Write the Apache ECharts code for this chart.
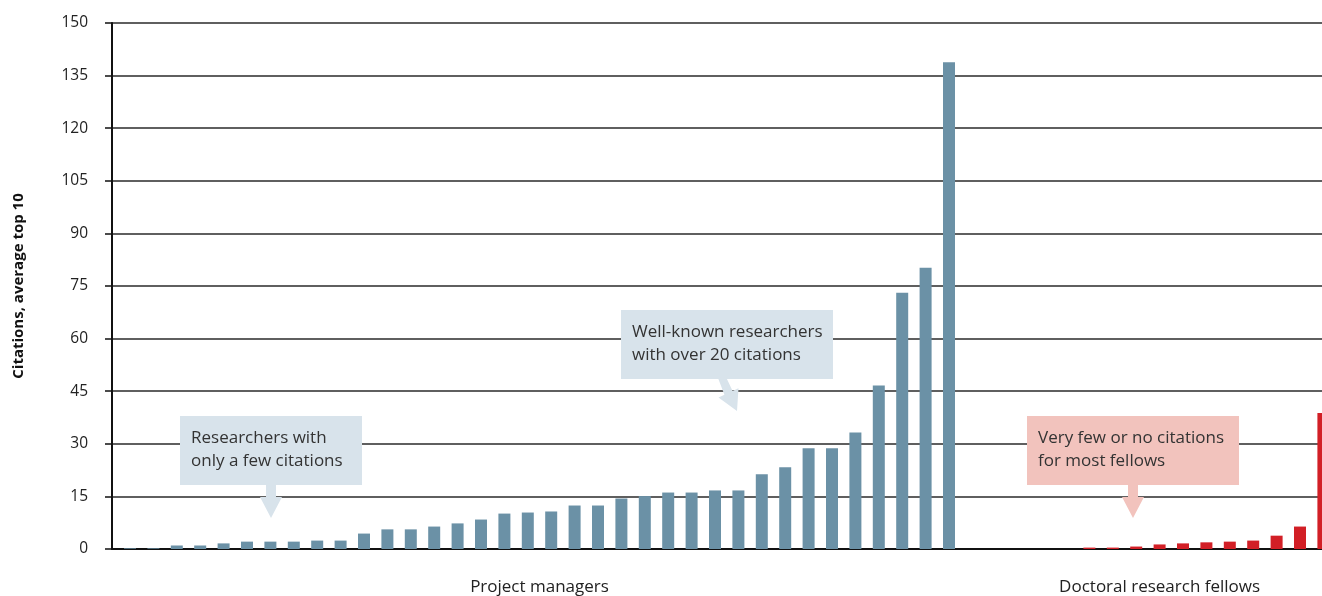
<!DOCTYPE html>
<html>
<head>
<meta charset="utf-8">
<script src="https://cdn.jsdelivr.net/npm/echarts@6/dist/echarts.min.js"></script>
<style>
  html, body { margin: 0; padding: 0; background: #fff; }
  #chart { width: 1322px; height: 596px; }
</style>
</head>
<body>
<div id="chart"></div>
<script>
// average top-10 citations, one bar per person, sorted
var managerValues = [0.2, 0.2, 1.0, 1.0, 1.6, 2.1, 2.1, 2.1, 2.4, 2.4, 4.4, 5.6, 5.6, 6.4, 7.3, 8.4,
  10.1, 10.4, 10.7, 12.4, 12.4, 14.4, 15.1, 16.1, 16.1, 16.7, 16.7, 21.3, 23.3, 28.7, 28.7, 33.2,
  46.6, 73.1, 80.2, 138.8];
var fellowValues = [0, 0, 0, 0, 0.4, 0.4, 0.7, 1.3, 1.6, 1.9, 2.1, 2.4, 3.8, 6.4, 38.8];
var groupNames = ["Project managers", "Doctoral research fellows"];
var yTicks = [0, 15, 30, 45, 60, 75, 90, 105, 120, 135, 150];

var fellowStart = managerValues.length + 1; // one empty slot between groups

var managerData = managerValues.map(function (v, i) { return [i, v]; });
var fellowData = fellowValues.map(function (v, i) { return [fellowStart + i, v]; });
var groupMids = [
  (managerValues.length - 1) / 2,
  fellowStart + (fellowValues.length - 1) / 2
];

var font = "'Open Sans', 'Noto Sans', sans-serif";
var chart = echarts.init(document.getElementById("chart"));

function callout(x, y, w, h, color, text, arrow) {
  var els = [
    { type: "rect", shape: { x: x, y: y, width: w, height: h }, style: { fill: color } },
    { type: "text", x: x + 11, y: y + 11,
      style: { text: text, font: "17px " + font, fill: "#333", lineHeight: 23, verticalAlign: "top" } }
  ];
  els.push({ type: "polygon", shape: { points: arrow }, style: { fill: color } });
  return els;
}

var graphics = []
  .concat(callout(180, 416, 182, 69, "#d8e3eb", "Researchers with\nonly a few citations",
    [[266, 484], [276, 484], [276, 497], [282, 497], [271, 518], [260, 497], [266, 497]]))
  .concat(callout(621, 310, 212, 69, "#d8e3eb", "Well-known researchers\nwith over 20 citations",
    [[726, 377], [732.6, 391], [738.5, 388.2], [737, 411], [718.5, 397.6], [724.4, 394.8], [718, 378]]))
  .concat(callout(1027, 416, 212, 69, "#f2c3bd", "Very few or no citations\nfor most fellows",
    [[1128, 484], [1138, 484], [1138, 497], [1144, 497], [1133, 518], [1122, 497], [1128, 497]]));
graphics.forEach(function (g) { g.z = 100; });

var option = {
  animation: false,
  textStyle: { fontFamily: font },
  grid: { left: 112, right: 0, top: 23, bottom: 47, containLabel: false },
  xAxis: {
    type: "value",
    min: -0.769,
    max: 50.94,
    splitLine: { show: false },
    axisTick: { show: false },
    axisLine: { show: true, onZero: false, lineStyle: { color: "#111", width: 2 } },
    axisLabel: {
      customValues: groupMids,
      margin: 30,
      fontSize: 17,
      color: "#222",
      formatter: function (v) { return groupNames[groupMids.indexOf(v)] || ""; }
    }
  },
  yAxis: {
    type: "value",
    min: yTicks[0],
    max: yTicks[yTicks.length - 1],
    interval: yTicks[1] - yTicks[0],
    name: "Citations, average top 10",
    nameLocation: "middle",
    nameGap: 86,
    nameTextStyle: { fontSize: 15, fontWeight: "bold", color: "#111" },
    axisLine: { show: true, onZero: false, lineStyle: { color: "#111", width: 2 } },
    axisTick: { show: true, length: 7, lineStyle: { color: "#111", width: 1.5 } },
    axisLabel: { margin: 24, fontSize: 15.5, color: "#222" },
    splitLine: { show: true, lineStyle: { color: "#2a2a2a", width: 1.5 } }
  },
  series: [
    {
      name: groupNames[0],
      type: "bar",
      data: managerData,
      barWidth: 12,
      barGap: "-100%",
      itemStyle: { color: "#6b91a6" }
    },
    {
      name: groupNames[1],
      type: "bar",
      data: fellowData,
      barWidth: 12,
      barGap: "-100%",
      itemStyle: { color: "#d21f26" }
    }
  ],
  graphic: graphics
};

chart.setOption(option);
</script>
</body>
</html>
